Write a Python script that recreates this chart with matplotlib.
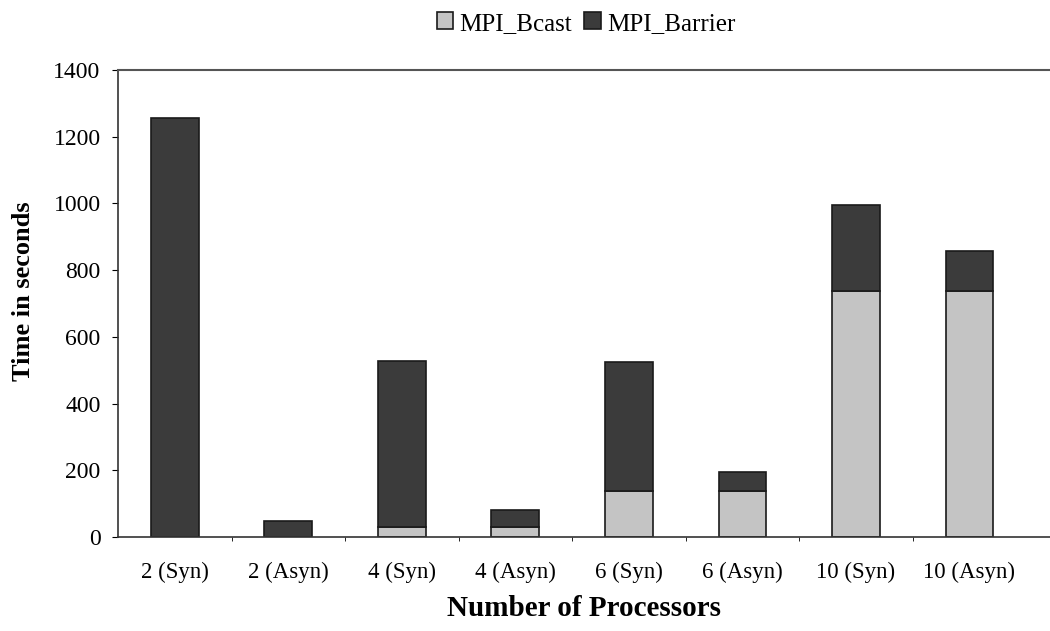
import matplotlib
matplotlib.use("Agg")
import matplotlib.pyplot as plt
import numpy as np

# data
categories = ["2 (Syn)", "2 (Asyn)", "4 (Syn)", "4 (Asyn)",
              "6 (Syn)", "6 (Asyn)", "10 (Syn)", "10 (Asyn)"]
bcast = [0, 0, 30, 30, 138, 138, 737, 737]
barrier = [1255, 48, 498, 51, 387, 57, 258, 120]
yticks = [0, 200, 400, 600, 800, 1000, 1200, 1400]

plt.rcParams['font.family'] = ['Liberation Serif', 'DejaVu Serif']

fig = plt.figure(figsize=(10.5, 6.31), dpi=100)
ax = fig.add_axes([0.1124, 0.149, 0.8876, 0.740])

x = np.arange(len(categories))
w = 0.42
ax.bar(x, bcast, width=w, color='#c4c4c4', edgecolor='#1a1a1a', linewidth=1.2,
       label='MPI_Bcast')
ax.bar(x, barrier, width=w, bottom=bcast, color='#3b3b3b', edgecolor='#1a1a1a',
       linewidth=1.2, label='MPI_Barrier')

ax.set_xlim(-0.5, 7.71)
ax.set_ylim(0, 1400)
ax.set_yticks(yticks)
ax.set_xticks(x)
ax.set_xticklabels(categories, fontsize=16.5)
ax.set_xticks(np.arange(0.5, 7.5, 1), minor=True)
ax.tick_params(axis='y', labelsize=17, length=4, direction='out', pad=8.5)
ax.tick_params(axis='x', which='major', length=0, pad=18)
ax.tick_params(axis='x', which='minor', length=3)

ax.spines['right'].set_visible(False)
for s in ['left', 'bottom']:
    ax.spines[s].set_color('#333333')
    ax.spines[s].set_linewidth(1.2)
ax.spines['top'].set_color('#555555')
ax.spines['top'].set_linewidth(1.5)

ax.set_ylabel("Time in seconds", fontsize=19, fontweight='bold')
ax.yaxis.set_label_coords(-0.089, 0.526)
ax.set_xlabel("Number of Processors", fontsize=21, fontweight='bold', labelpad=8.5)

fig.legend(loc='upper center', bbox_to_anchor=(0.558, 1.016), ncol=2, frameon=False,
           fontsize=18, handlelength=0.65, handleheight=0.65, handletextpad=0.25,
           columnspacing=0.5)

fig.savefig("out.png", dpi=100)
